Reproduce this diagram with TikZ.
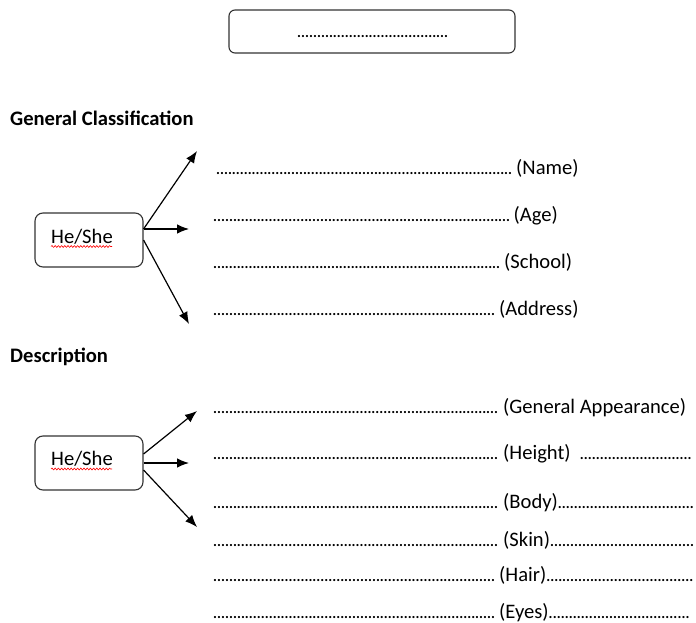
\documentclass[tikz,border=0pt]{standalone}
\usepackage{fontspec}
\setmainfont{Carlito}
\usetikzlibrary{arrows.meta,decorations.pathmorphing}
\newcommand\dl[1]{\hbox to #1{\fontsize{14.7}{16}\selectfont\bfseries\xleaders\hbox{.}\hfil}}
\tikzset{
  box/.style={draw=black!80, line width=1.1pt, rounded corners=8pt, fill=white},
  lbl/.style={anchor=base west, inner sep=0pt, font=\fontsize{20.6}{24}\selectfont},
  hdr/.style={anchor=base west, inner sep=0pt, font=\fontsize{20.6}{24}\selectfont\bfseries},
  arr/.style={line width=1.2pt, -{Latex[length=12pt,width=9.5pt]}},
  wavy/.style={red, line width=0.6pt, decorate, decoration={snake, amplitude=0.9pt, segment length=3.2pt}}
}
\begin{document}
\begin{tikzpicture}[x=1pt,y=-1pt]
\useasboundingbox (0,0) rectangle (696,623);
% title box
\draw[box, rounded corners=6pt] (229,10) rectangle (515,53);
\node[lbl] (title) at (297,38) {\dl{151pt}};
% headers
\node[hdr] (gc) at (10,126) {General Classification};
\node[hdr] (desc) at (10,362) {Description};
% box 1
\node[box, minimum width=108pt, minimum height=54pt, inner sep=0pt] (b1) at (89,240) {};
\node[lbl] (t1) at (51,243) {He/She};
\draw[wavy] (51,246.5) -- (112,246.5);
% box 2
\node[box, minimum width=108pt, minimum height=54pt, inner sep=0pt] (b2) at (89,463) {};
\node[lbl] (t2) at (51,465) {He/She};
\draw[wavy] (51,469) -- (112,469);
% group 1 lines
\node[lbl] (l1) at (216,174) {\dl{296pt}\hspace{4pt}(Name)};
\node[lbl] (l2) at (213,221) {\dl{297pt}\hspace{3.5pt}(Age)};
\node[lbl] (l3) at (213,268) {\dl{287pt}\hspace{4pt}(School)};
\node[lbl] (l4) at (213,315) {\dl{282pt}\hspace{4pt}(Address)};
% group 2 lines
\node[lbl] (m1) at (213,413) {\dl{285pt}\hspace{5pt}(General Appearance)};
\node[lbl] (m2) at (213,459.5) {\dl{285pt}\hspace{5pt}(Height)\hspace{9pt}\dl{112pt}};
\node[lbl] (m3) at (213,508) {\dl{285pt}\hspace{5pt}(Body)\dl{136pt}};
\node[lbl] (m4) at (213,546.5) {\dl{285pt}\hspace{5pt}(Skin)\dl{144pt}};
\node[lbl] (m5) at (213,581.5) {\dl{282pt}\hspace{4pt}(Hair)\dl{147pt}};
\node[lbl] (m6) at (213,618) {\dl{282pt}\hspace{4pt}(Eyes)\dl{141pt}};
% arrow targets
\coordinate (a1) at (197,151);
\coordinate (a2) at (189,229);
\coordinate (a3) at (189,324);
\coordinate (c1) at (197,411);
\coordinate (c2) at (189,463);
\coordinate (c3) at (197,527);
% arrows
\draw[arr] ([yshift=11pt]b1.east) -- (a1);
\draw[arr] ([yshift=11pt]b1.east) -- (a2);
\draw[arr] (b1.east) -- (a3);
\draw[arr] ([yshift=9pt]b2.east) -- (c1);
\draw[arr] (b2.east) -- (c2);
\draw[arr] ([yshift=-7pt]b2.east) -- (c3);
\end{tikzpicture}
\end{document}
